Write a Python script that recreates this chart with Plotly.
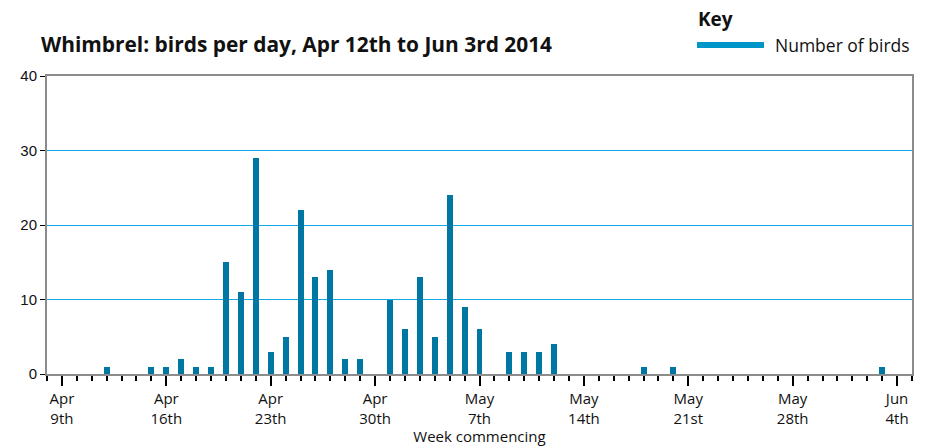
import plotly.graph_objects as go
import pandas as pd

# ---- data ----
start_date = "2014-04-12"
end_date = "2014-06-03"
birds = [1, 0, 0, 1, 1, 2, 1, 1, 15, 11, 29, 3, 5, 22, 13, 14, 2, 2, 0,   # Apr 12 - Apr 30
         10, 6, 13, 5, 24, 9, 6, 0, 3, 3, 3, 4, 0, 0, 0, 0, 0, 1, 0, 1,  # May 1 - May 20
         0, 0, 0, 0, 0, 0, 0, 0, 0, 0, 0, 0, 0, 1]                          # May 21 - Jun 3
dates = pd.date_range(start_date, end_date, freq="D")

week_ticks = ["2014-04-09", "2014-04-16", "2014-04-23", "2014-04-30", "2014-05-07",
              "2014-05-14", "2014-05-21", "2014-05-28", "2014-06-04"]
week_labels = ["Apr<br>9th", "Apr<br>16th", "Apr<br>23th", "Apr<br>30th", "May<br>7th",
               "May<br>14th", "May<br>21st", "May<br>28th", "Jun<br>4th"]

title_text = "Whimbrel: birds per day, Apr 12th to Jun 3rd 2014"
series_name = "Number of birds"

FONT = "Open Sans"
BAR_COLOR = "#0077a3"
GRID_COLOR = "#10aae6"
BORDER = "#8c8c8c"

L, R, T, B = 47, 20, 76, 72
PW, PH = 932 - L - R, 446 - T - B

fig = go.Figure()
fig.add_trace(go.Bar(
    x=dates, y=birds, name=series_name,
    marker=dict(color=BAR_COLOR, line=dict(width=0)),
    width=0.4 * 86400000,
    showlegend=False,
))

fig.update_layout(
    width=932, height=446,
    margin=dict(l=L, r=R, t=T, b=B, autoexpand=False),
    paper_bgcolor="white", plot_bgcolor="white",
    font=dict(family=FONT, size=14, color="#111"),
    title=dict(text="<b>" + title_text + "</b>", x=41 / 932, xanchor="left",
               y=1 - 45 / 446, yanchor="middle", font=dict(size=20.9, family=FONT, color="#111")),
    xaxis=dict(
        type="date", automargin=False,
        range=["2014-04-08", "2014-06-05"],
        tickmode="array", tickvals=week_ticks, ticktext=week_labels,
        ticks="outside", ticklen=10, tickwidth=1.5, tickcolor="black",
        minor=dict(dtick=86400000, tick0="2014-04-09", ticks="outside", ticklen=5,
                   tickwidth=1.5, tickcolor="black", showgrid=False),
        showline=True, linecolor=BORDER, linewidth=2, mirror=True,
        showgrid=False, zeroline=False,
        tickfont=dict(size=15, family=FONT, color="#111"),
        title=dict(text="Week commencing", font=dict(size=15, family=FONT, color="#111"), standoff=5),
    ),
    yaxis=dict(
        range=[0, 40], dtick=10, automargin=False,
        ticks="outside", ticklen=5, tickcolor="black",
        showline=True, linecolor=BORDER, linewidth=2, mirror=True,
        showgrid=True, gridcolor=GRID_COLOR, gridwidth=1, zeroline=False,
        tickfont=dict(size=15, family="Liberation Sans", color="#111"),
    ),
    bargap=0,
)

# manual key
fig.add_annotation(text="<b>Key</b>", xref="paper", yref="paper",
                   x=(696 - L) / PW, y=1 + (T - 19) / PH, xanchor="left", yanchor="middle",
                   showarrow=False, font=dict(size=19, family=FONT, color="#111"))
fig.add_shape(type="line", xref="paper", yref="paper",
              x0=(697 - L) / PW, x1=(764 - L) / PW,
              y0=1 + (T - 45) / PH, y1=1 + (T - 45) / PH,
              line=dict(color="#0096c8", width=6))
fig.add_annotation(text=series_name, xref="paper", yref="paper",
                   x=(773 - L) / PW, y=1 + (T - 45) / PH, xanchor="left", yanchor="middle",
                   showarrow=False, font=dict(size=17.5, family=FONT, color="#111"))

fig.write_html("out.html", config={"displayModeBar": False},
               post_script="document.body.style.margin='0px';document.body.style.overflow='hidden';")
